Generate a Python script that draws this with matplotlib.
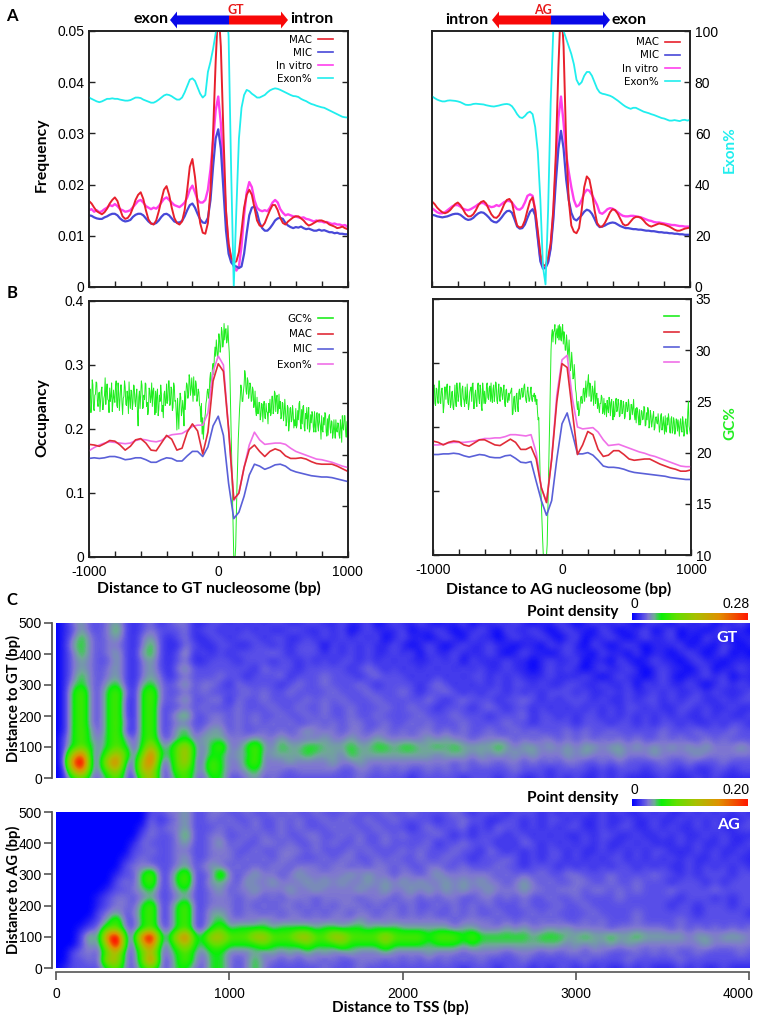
import matplotlib
matplotlib.use('Agg')
import matplotlib.pyplot as plt
import numpy as np
from matplotlib.cm import ScalarMappable
from matplotlib.colors import LinearSegmentedColormap, Normalize
from matplotlib.patches import FancyArrow
from matplotlib.transforms import ScaledTranslation

# x grids of the line panels
x20 = np.arange(-1000, 1001, 20)
x40 = np.arange(-1000, 1001, 40)
x5 = np.arange(-1000, 1001, 5)

# Panel A, nucleosome frequency x 10000, one line per 200 bp
mac_gt = [168,163,155,148,145,142,146,153,163,170,
          175,168,152,138,133,135,142,155,170,180,
          185,172,150,132,124,122,130,148,170,190,
          197,180,155,135,125,122,128,150,190,235,
          250,215,165,125,106,104,125,190,300,440,
          550,470,300,150,85,58,48,50,68,110,
          155,180,190,180,155,130,120,118,125,138,
          150,160,160,150,135,125,122,128,132,136,
          138,138,134,130,124,120,122,125,128,130,
          130,128,126,122,120,118,115,116,118,115,
          113]
mic_gt = [140,139,136,134,133,133,136,138,141,143,
          143,140,134,130,128,129,131,137,141,143,
          143,140,134,128,124,123,125,130,137,142,
          143,140,134,128,126,126,129,138,150,160,
          163,155,143,132,126,125,135,170,235,290,
          308,270,190,110,65,48,42,40,37,40,
          65,105,140,155,157,145,125,115,110,110,
          115,122,130,134,135,133,125,120,117,115,
          117,116,118,115,113,114,112,110,110,112,
          110,111,109,107,107,105,106,104,104,103,
          103]
vitro_gt = [150,152,147,150,146,148,152,155,160,158,
            162,158,152,150,147,148,150,156,162,168,
            170,165,158,155,152,155,153,158,165,172,
            175,170,165,160,158,156,160,165,175,190,
            198,185,170,165,165,170,190,230,285,345,
            372,320,230,140,80,55,40,32,40,80,
            140,185,205,195,170,155,150,148,150,148,
            155,165,170,165,152,145,140,142,140,138,
            138,136,135,136,133,132,130,128,130,128,
            128,126,127,125,123,124,122,122,120,121,
            118]
exon_gt = [74,73.5,73,72.5,72.2,72.5,73,73.5,73.5,73.7,
           73.5,73.5,73.2,73,72.8,72.8,73,73.5,74,74,
           73.8,73.2,72.8,72.4,72,72,72.5,73.2,74,74.8,
           75.2,75,74.5,73.8,73.2,73.2,74,76,78.5,81,
           81.5,80.5,78,75.5,74,75,84,88,93,99,
           106,112,115,112,98,45,0,30,58,70,
           75,77,76.5,75.5,74.8,74,74,74.5,75,76,
           76.8,77.3,77.6,77.4,77,76.5,76,75.5,75,74.6,
           74.5,74.2,73.5,73,72.6,72,71.5,71.2,70.8,70.5,
           70.2,70,69.5,69,68.5,68,67.5,67,66.5,66.3,
           66.2]

mac_ag = [167,162,155,150,146,144,146,150,156,162,
          165,160,152,143,138,138,142,150,160,166,
          168,163,152,142,136,135,140,150,162,170,
          172,165,140,120,116,118,130,150,168,175,
          150,110,65,43,42,58,85,150,260,430,
          560,470,280,170,120,108,105,115,150,195,
          216,210,185,150,125,118,118,125,135,146,
          152,150,143,133,123,120,122,128,134,137,
          137,135,130,124,120,118,120,122,124,123,
          122,120,118,115,112,110,110,112,114,115,
          116]
mic_ag = [141,140,138,137,136,137,138,140,142,143,
          143,141,137,133,131,132,135,140,144,146,
          145,141,136,130,127,126,130,136,143,148,
          149,145,132,118,114,115,122,135,147,152,
          140,95,50,36,37,48,75,130,205,270,
          305,270,210,170,145,133,130,135,140,147,
          151,149,143,133,122,117,118,120,123,125,
          126,125,122,119,117,115,115,114,113,113,
          112,112,111,110,110,109,109,108,107,107,
          106,106,105,105,104,104,103,103,102,102,
          102]
vitro_ag = [154,150,146,144,144,146,150,154,158,160,
            160,157,153,151,150,152,155,158,162,164,
            164,160,158,156,157,160,158,162,166,168,
            168,165,158,152,151,155,165,178,181,178,
            150,100,55,40,40,50,80,140,230,330,
            372,320,260,225,195,170,157,160,170,183,
            190,188,180,170,160,145,143,147,152,154,
            153,150,146,142,139,138,138,139,139,138,
            137,136,134,132,130,129,127,126,126,125,
            124,123,122,121,121,120,119,119,118,118,
            118]
exon_ag = [74.5,73.8,73.2,72.8,72.5,72.5,72.8,72.9,72.8,72.7,
           72.5,72.2,71.7,71.2,71.1,71.2,71.5,71.6,71.5,71.4,
           71.3,71,70.8,70.6,70.5,70.7,70.9,71.2,71.4,71.5,
           71.3,70.6,69.2,67.5,66.3,66,66.8,68,68.5,67.5,
           62.5,53,34,8,1,30,72,100,115,120,
           120,100,97,94,91,87,81,79,80,82.5,
           84,84,82.5,80,77.5,76,75.5,75.3,75,74.7,
           74.2,73.5,72.8,72,71.2,70.5,70,69.6,70,70,
           69.5,69,68.5,68.2,67.9,67.5,67.2,66.8,66.4,66,
           65.8,65.4,65,65,65.2,65,64.8,65.2,65.3,65,
           65.3]

# Panel B, occupancy every 40 bp
occ_mac_gt = [.176,.175,.173,.177,.182,.181,.175,.167,.173,.183,
              .185,.178,.167,.166,.178,.190,.184,.167,.170,.195,
              .208,.197,.161,.195,.275,
              .302,.290,.200,.090,.100,.140,.168,.175,.165,.157,
              .165,.169,.166,.158,.154,.154,.155,.153,.149,.146,
              .145,.145,.145,.142,.138,.134]
occ_exon_gt = [.166,.171,.175,.178,.180,.179,.178,.177,.178,.182,
               .184,.183,.181,.180,.182,.188,.191,.192,.193,.198,
               .204,.206,.206,.225,.290,
               .314,.300,.200,.088,.100,.140,.175,.195,.183,.176,
               .177,.178,.178,.176,.170,.165,.162,.159,.156,.153,
               .152,.150,.148,.145,.142,.140]
occ_mic_gt = [.154,.155,.154,.155,.157,.157,.155,.152,.153,.155,
              .155,.152,.148,.148,.152,.155,.154,.150,.150,.158,
              .165,.165,.157,.172,.205,
              .220,.190,.115,.060,.070,.095,.128,.145,.142,.137,
              .140,.144,.145,.142,.136,.133,.131,.129,.127,.126,
              .125,.125,.124,.122,.120,.118]
occ_mac_ag = [.178,.176,.172,.176,.178,.177,.172,.170,.175,.180,
              .180,.176,.172,.171,.176,.181,.176,.165,.165,.169,
              .150,.105,.082,.150,.240,
              .299,.293,.225,.157,.172,.193,.188,.165,.154,.156,
              .163,.163,.157,.150,.148,.149,.150,.150,.146,.142,
              .139,.136,.134,.131,.131,.133]
occ_exon_ag = [.172,.172,.173,.175,.176,.176,.176,.177,.178,.180,
               .182,.182,.183,.183,.185,.188,.188,.187,.186,.188,
               .160,.105,.082,.150,.250,
               .305,.312,.245,.200,.197,.198,.199,.192,.180,.171,
               .172,.173,.170,.167,.164,.161,.159,.156,.154,.151,
               .148,.145,.142,.139,.138,.138]
occ_mic_ag = [.157,.157,.158,.158,.159,.158,.155,.153,.155,.157,
              .156,.153,.152,.152,.155,.156,.151,.145,.144,.146,
              .115,.085,.062,.085,.150,
              .205,.222,.190,.158,.158,.160,.156,.148,.139,.137,
              .137,.136,.134,.131,.129,.128,.127,.126,.125,.124,
              .123,.121,.120,.119,.118,.118]

# GC% x 10 every 5 bp, one line per 200 bp
gc_gt = [246,262,264,241,250, 273,268,245,243,258, 259,271,270,252,247, 260,261,242,252,263, 266,244,244,255,258, 275,249,262,269,254, 253,241,265,252,257, 270,242,251,263,255,
         251,266,272,248,246, 270,260,243,254,268, 268,250,239,255,257, 272,266,249,248,262, 256,240,271,255,245, 263,262,244,250,268, 267,252,247,259,264, 241,228,256,262,245,
         259,272,268,245,246, 258,254,270,269,247, 251,239,243,265,263, 251,256,270,247,262, 265,250,239,262,241, 259,264,238,244,258, 252,268,260,242,248, 236,259,262,248,251,
         269,250,253,272,272, 248,250,266,264,243, 246,270,267,252,253, 240,224,255,239,225, 248,260,256,238,242, 253,245,228,262,244, 260,270,268,255,259, 278,273,258,264,275,
         264,252,276,258,258, 272,269,252,256,264, 261,248,247,232,250, 220,236,215,228,235, 240,250,254,262,264, 255,260,274,280,265, 272,285,289,278,296, 305,296,312,304,295,
         299,318,312,300,306, 324,320,305,310,328, 312,322,323,309,312, 326,310,300,280,250, 220,190,160,130,100, 100,100,110,140,170, 190,215,230,245,255, 268,264,252,252,262,
         268,282,278,262,259, 275,272,255,260,270, 268,252,253,266,263, 246,250,262,242,238, 256,240,240,251,251, 234,238,250,249,232, 247,252,236,235,250, 242,241,230,250,241,
         254,238,240,257,257, 240,244,262,260,242, 255,258,240,244,259, 245,252,235,237,251, 250,233,240,254,243, 228,232,248,246,223, 229,245,246,232,234, 248,240,226,234,228,
         245,226,229,243,234, 250,252,232,225,244, 230,247,248,227,223, 240,235,246,225,239, 246,222,225,239,231, 242,240,227,222,242, 227,222,240,241,228, 223,240,232,228,215,
         238,224,222,236,229, 241,240,222,218,235, 219,237,239,227,221, 233,232,216,221,234, 224,216,234,224,222, 231,230,219,216,234, 226,212,238,226,224, 238,238,223,217,232,
         233]
gc_ag = [250,266,266,248,246, 263,262,251,248,270, 270,249,248,260,263, 254,239,246,264,264, 252,263,267,249,247, 258,265,244,247,259, 260,244,242,254,266, 250,245,268,260,250,
         255,268,268,247,245, 262,265,253,251,245, 264,252,248,267,253, 242,247,259,262,264, 250,267,268,243,243, 257,261,249,245,265, 268,253,248,266,262, 245,241,268,260,248,
         260,248,250,266,268, 254,252,263,265,250, 268,253,249,262,266, 250,256,269,268,251, 248,260,267,253,250, 264,263,256,252,262, 266,249,245,261,262, 250,249,258,251,258,
         258,261,263,237,238, 252,255,243,240,256, 258,246,240,259,262, 252,254,262,263,254, 255,265,267,257,251, 249,260,264,256,250, 252,260,264,252,250, 256,255,258,250,256,
         247,252,240,232,234, 205,180,168,150,130, 115,100,100,100,100, 100,100,110,140,170, 200,235,270,300,315, 320,308,318,319,325, 306,316,321,312,324, 310,325,310,323,309,
         316,325,306,318,313, 300,300,315,307,290, 299,310,294,280,284, 298,288,272,273,286, 273,262,258,248,242, 250,236,240,245,254, 255,248,250,262,263, 250,258,270,254,262,
         269,276,255,268,267, 250,252,265,262,246, 259,270,248,255,258, 243,253,245,239,248, 248,256,254,238,240, 253,237,248,246,235, 251,243,239,254,249, 236,249,252,240,232,
         250,235,237,251,253, 240,242,252,248,235, 236,251,251,238,239, 250,246,233,235,249, 249,240,241,252,246, 232,233,247,247,237, 243,252,238,232,243, 229,244,242,235,227,
         242,227,229,241,240, 232,233,245,244,226, 227,239,232,244,241, 224,228,241,236,225, 230,236,240,222,224, 234,235,229,228,238, 230,220,225,236,238, 222,226,235,227,218,
         236,221,220,234,227, 238,232,220,219,233, 235,219,222,234,231, 218,222,233,232,221, 232,225,216,230,233, 222,220,235,230,216, 219,230,233,224,218, 240,250,226,222,218,
         234]

# Panel C, density read by eye as levels 0-9
# one digit per 50 bp of TSS distance, rows from 500 bp down to 0 bp in steps of 25 bp
levels = [0, .05, .10, .14, .19, .25, .38, .60, .90, 1.25]
gt_rows = [
    "0134223421 2312331122 1212122112 2112112012 1121011201 1212101121 0121121012 1021120112 1",
    "0124223521 2322231221 2121211221 1212012111 2011210112 1021121012 1102101120 1201101211 0",
    "0135323421 3421231122 1222122112 1212121201 2110121021 1012112101 2011210121 1201021101 1",
    "0145323321 3521132112 2112212122 2021212112 1012101211 2110110212 1021012101 1120110210 1",
    "0135323421 4521241212 1222232122 2121212112 1202112111 2101211012 1102110201 1012101201 0",
    "0134322421 3421231122 2122212212 1212212121 2111212021 1121101211 2011021012 1101211011 1",
    "0134323421 3421342222 2221322212 2222123212 1212121212 1121101212 1012112101 2110120112 1",
    "0135323421 3431232223 2212223122 2322212322 2121212122 1212111211 1210121101 2101121201 1",
    "0145324521 4532342332 1322221232 2322232122 2212321212 1212212112 2112112021 2112101212 1",
    "0156325631 5632232322 2232322322 2232223222 3212232121 2212121222 1211212112 1211212111 2",
    "0156325621 5632342233 1322322223 2323222322 2223212322 2122321212 2212112122 1212211212 2",
    "0156325621 5622232322 2322232232 2322322232 2322122212 3212212121 2121212212 1122121121 1",
    "0156325621 5622452233 2323223223 2322322322 2232223222 1222312212 1221212121 2121121211 2",
    "0156325631 5622332233 2323232322 3232332232 2323222322 2232212222 1222122121 2212112122 1",
    "0156425621 5622452344 2322323234 3332332332 3233232322 3223232223 2322322222 3222322232 2",
    "0256435642 5632453444 3334334333 3433433433 3334343323 3332323323 2323232322 3232232322 2",
    "0256535652 5744674356 3356435445 5444544554 5544545444 4543443434 3443443434 3434343334 3",
    "0278436762 6854674355 3446344445 4443544444 4444344434 3434343334 3433343334 3333433333 3",
    "0289437842 7833673365 3356333433 3343343333 3333332323 3233232323 3223232222 3223222322 2",
    "0178436732 7732664365 3345333233 3332233232 3223232322 2223222122 2212122212 2212112212 2",
    "0156325631 6732563255 2234232222 2222232222 2122222122 2122112121 2112121111 2111212111 1",
]
ag_rows = [
    "0000000000 0223342233 2232232322 3222322232 2322223212 2212221212 1212121121 2112121212 1",
    "0000000000 0312342232 3223223232 2323223223 2222122322 1122121221 2112112112 1121212111 2",
    "0000000000 1323342223 2323223232 2232322322 2123222312 1322121212 2112122112 1211212112 2",
    "0000000000 2322352233 2232323223 3223232232 3222321212 2212212121 1212211211 2121121211 1",
    "0000000001 3222342234 2322332322 3232232232 2223122322 2121321212 1212112121 1121211211 2",
    "0000000002 2322332233 3223223332 3222323222 3232223221 3212121221 2112121212 2111212112 1",
    "0000000012 3222342233 3232323322 2323322323 2232232212 2232121221 2121221212 1212112121 1",
    "0000000023 3322342343 2323233233 3233232332 3223322322 2322122212 1212122121 2112121212 1",
    "0000000122 5622562236 3234332343 3333434332 3323433333 3232323223 3222322223 2212122212 2",
    "0000000232 5622562244 3243343334 3434334343 4343343434 3323432322 3322322322 2122212122 2",
    "0000001223 4522452234 2334333433 4333343343 3434343433 4333433233 3233232322 2322223222 2",
    "0000012332 3422342233 3233232333 2333323332 3323233223 3232322322 3222232222 2212221212 2",
    "0000012332 5622562233 3232323323 2323332323 2322323232 3222322232 2322222222 2122122212 2",
    "0000023423 5622562244 3233232332 3233233233 2323223232 2322232322 2232222322 2222122222 1",
    "0000124622 5622562245 3333433333 3333343333 3333332333 3232323232 2323222322 2232222222 2",
    "0001236632 5632562256 4555545555 4554554545 4444443443 3343433434 3333233333 3232323232 3",
    "0002538943 8954785577 6667766677 6677666676 6665666565 5555545554 4544544544 4443443444 3",
    "0002437942 7843675466 5555655556 5556555565 5554555454 4444444443 4343434333 3333343333 3",
    "0023326732 6733564355 3334343434 3433433343 3334333233 3323332323 3233222323 2322322223 2",
    "0022327732 6832564255 3235332323 3232233323 2323232323 2222322222 2322223222 2232222222 2",
    "0122225632 5632553255 3235322222 2322232222 2222222122 2122212122 1212112121 1121211211 1",
]

RED = '#e8202c'
BLUE = '#4848d8'
MAGENTA = '#ff40ee'
CYAN = '#20eeee'
GREEN = '#20ee20'
W, H = 761, 1016

plt.rcParams['font.family'] = ['Liberation Sans', 'DejaVu Sans']
fig = plt.figure(figsize=(W / 100, H / 100), dpi=100)


def add_axes_px(x0, y0, x1, y1):
    # pixel box, y counted from the top of the picture
    return fig.add_axes([x0 / W, 1 - y1 / H, (x1 - x0) / W, (y1 - y0) / H])


def grid_to_density(rows):
    digits = [[int(c) for c in r.replace(' ', '')] for r in rows]
    return np.array(levels)[np.array(digits)]


def style_box(ax):
    for s in ax.spines.values():
        s.set_linewidth(1.2)
        s.set_color('#222222')
    ax.set_xlim(-1000, 1000)
    ax.set_xticks(np.arange(-1000, 1001, 200))
    ax.tick_params(direction='in', length=4, width=1, labelsize=10, color='#222222')


def side_legend(ax, handles, labels, anchor, spacing):
    return ax.legend(handles, labels, loc='upper right', bbox_to_anchor=anchor, frameon=False,
                     markerfirst=False, handlelength=1.45, handletextpad=0.6,
                     labelspacing=spacing, borderpad=0, borderaxespad=0,
                     prop={'family': 'DejaVu Sans', 'size': 7.4})


def panel_a(box, mac, mic, vitro, exon, left_labels, anchor):
    ax = add_axes_px(*box)
    style_box(ax)
    h_vitro, = ax.plot(x20, np.array(vitro) / 1e4, color=MAGENTA, lw=1.7)
    h_mic, = ax.plot(x20, np.array(mic) / 1e4, color=BLUE, lw=1.6)
    h_mac, = ax.plot(x20, np.array(mac) / 1e4, color=RED, lw=1.4)
    ax.set_ylim(0, 0.05)
    ax.set_yticks([0, .01, .02, .03, .04, .05])
    ax.set_xticklabels([])
    ax2 = ax.twinx()
    style_box(ax2)
    h_exon, = ax2.plot(x20, exon, color=CYAN, lw=1.3)
    ax2.set_ylim(0, 100)
    ax2.set_xticklabels([])
    if left_labels:
        ax.set_yticklabels(['0', '0.01', '0.02', '0.03', '0.04', '0.05'])
        ax.tick_params(right=True)
        ax2.set_yticks([])
    else:
        ax.tick_params(left=False, labelleft=False)
        ax2.set_yticks([0, 20, 40, 60, 80, 100])
        ax2.set_yticklabels(['0', '20', '40', '60', '80', '100'])
    leg = side_legend(ax2, [h_mac, h_mic, h_vitro, h_exon], ['MAC', 'MIC', 'In vitro', 'Exon%'], anchor, 0.3)
    for line in leg.get_lines():
        line.set_linewidth(1.2)


def panel_b(box, gc, mac, mic, exon, left_labels, names, anchor):
    ax = add_axes_px(*box)
    style_box(ax)
    ax2 = ax.twinx()
    style_box(ax2)
    h_gc, = ax2.plot(x5, np.array(gc) / 10, color=GREEN, lw=0.7)
    h_exon, = ax.plot(x40, exon, color='#f070e8', lw=1.2)
    h_mic, = ax.plot(x40, mic, color='#5a60d8', lw=1.2)
    h_mac, = ax.plot(x40, mac, color='#e02c38', lw=1.2)
    ax.set_zorder(ax2.get_zorder() + 1)
    ax.patch.set_visible(False)
    ax.set_ylim(0, 0.4)
    ax2.set_ylim(10, 35)
    ax.set_yticks([0, .1, .2, .3, .4])
    ax2.set_yticks([10, 15, 20, 25, 30, 35])
    ax.set_xticklabels(['-1000', '', '', '', '', '0', '', '', '', '', '1000'])
    ax.tick_params(axis='x', pad=6)
    if left_labels:
        ax.set_yticklabels(['0', '0.1', '0.2', '0.3', '0.4'])
        ax2.tick_params(labelright=False)
    else:
        ax.tick_params(labelleft=False)
    leg = side_legend(ax, [h_gc, h_mac, h_mic, h_exon], names, anchor, 0.52)
    leg.get_lines()[0].set_linewidth(1.2)


def heat_map(box, rows, show_x):
    ax = add_axes_px(*box)
    ax.imshow(grid_to_density(rows), cmap=density_map, vmin=0, vmax=1, aspect='auto',
              interpolation='bicubic', extent=(-25, 4025, -12.5, 512.5), origin='upper')
    ax.set_xlim(0, 4000)
    ax.set_ylim(0, 500)
    ax.set_yticks([0, 100, 200, 300, 400, 500])
    ax.spines['top'].set_visible(False)
    ax.spines['right'].set_visible(False)
    ax.spines['left'].set_position(('outward', 3))
    ax.spines['left'].set_color('#555555')
    ax.spines['left'].set_linewidth(1.3)
    ax.tick_params(axis='y', direction='out', length=6, width=1.2, color='#555555', labelsize=10, pad=1)
    if show_x:
        ax.spines['bottom'].set_position(('outward', 3))
        ax.spines['bottom'].set_color('#555555')
        ax.spines['bottom'].set_linewidth(1.2)
        ax.set_xticks([0, 1000, 2000, 3000, 4000])
        ax.tick_params(axis='x', direction='out', length=6, width=1.2, color='#555555', labelsize=10, pad=5)
        # last label sits a little left of its tick, as in the figure
        last = ax.get_xticklabels()[-1]
        last.set_transform(last.get_transform() + ScaledTranslation(-8 / 72, 0, fig.dpi_scale_trans))
    else:
        ax.spines['bottom'].set_visible(False)
        ax.set_xticks([])
    return ax


def small_bar(box):
    cax = add_axes_px(*box)
    cb = fig.colorbar(ScalarMappable(norm=Normalize(0, 1), cmap=density_map), cax=cax, orientation='horizontal')
    cb.set_ticks([])
    cb.outline.set_visible(False)


density_map = LinearSegmentedColormap.from_list('density', [
    (0, '#0000ff'), (.05, '#3028f0'), (.10, '#5a50e8'), (.14, '#8078d0'),
    (.19, '#70a898'), (.25, '#08f008'), (.38, '#60e000'), (.55, '#a8c000'),
    (.75, '#e09000'), (1, '#ff1800')])

panel_a((89, 31, 347.5, 287), mac_gt, mic_gt, vitro_gt, exon_gt, True, (0.944, 0.985))
panel_a((432, 31, 690, 287), mac_ag, mic_ag, vitro_ag, exon_ag, False, (0.96, 0.975))
panel_b((89, 301, 347.5, 557), gc_gt, occ_mac_gt, occ_mic_gt, occ_exon_gt, True,
        ['GC%', 'MAC', 'MIC', 'Exon%'], (0.944, 0.95))
panel_b((433, 299, 691, 555), gc_ag, occ_mac_ag, occ_mic_ag, occ_exon_ag, False,
        ['', '', '', ''], (0.953, 0.95))

heat_map((56, 623, 749, 778), gt_rows, False)
heat_map((56, 812, 749, 968), ag_rows, True)
small_bar((632, 613, 748, 620))
small_bar((632, 799, 748, 806))

# overlay in picture pixels for the loose labels and the arrows
over = fig.add_axes([0, 0, 1, 1], zorder=10)
over.set_xlim(0, W)
over.set_ylim(H, 0)
over.axis('off')


def bold(x, y, s, size=11.3, color='black', ha='center', rotation=0):
    over.text(x, y, s, fontsize=size, color=color, ha=ha, va='center', rotation=rotation,
              fontweight='bold', family=['Lato', 'DejaVu Sans'])


def arrow(x0, x1, color):
    over.add_patch(FancyArrow(x0, 20, x1 - x0, 0, width=9, head_width=17, head_length=7,
                              length_includes_head=True, color=color, lw=0))


arrow(229, 170, '#0808e8')
arrow(229, 288, '#f80808')
arrow(551, 492, '#f80808')
arrow(551, 610, '#0808e8')

bold(168, 19, 'exon', 11.5, ha='right')
bold(290, 19, 'intron', 11.5, ha='left')
bold(488, 20, 'intron', 11.5, ha='right')
bold(611, 20, 'exon', 11.5, ha='left')
bold(236, 10, 'GT', 9, '#e81818')
bold(543, 10, 'AG', 9, '#e81818')

bold(12, 16, 'A', 12)
bold(12, 293, 'B', 12)
bold(12, 600, 'C', 12)

bold(42, 155, 'Frequency', rotation=90)
bold(42, 418, 'Occupancy', rotation=90)
bold(730, 150, 'Exon%', 11, CYAN, rotation=90)
bold(730, 423, 'GC%', 11, GREEN, rotation=90)
bold(209, 588, 'Distance to GT nucleosome (bp)')
bold(559, 589, 'Distance to AG nucleosome (bp)')
bold(13, 698, 'Distance to GT (bp)', 10.6, rotation=90)
bold(13, 890, 'Distance to AG (bp)', 10.6, rotation=90)
bold(400, 1007, 'Distance to TSS (bp)', 11)
bold(573, 612, 'Point density', 11.2)
bold(573, 798, 'Point density', 11.2)
bold(727, 638, 'GT', 11.5, 'white')
bold(728, 825, 'AG', 11.5, 'white')

over.text(634, 604, '0', fontsize=10, ha='center', va='center')
over.text(750, 604, '0.28', fontsize=10, ha='right', va='center')
over.text(634, 790, '0', fontsize=10, ha='center', va='center')
over.text(750, 790, '0.20', fontsize=10, ha='right', va='center')

plt.savefig('out.png', dpi=100)
